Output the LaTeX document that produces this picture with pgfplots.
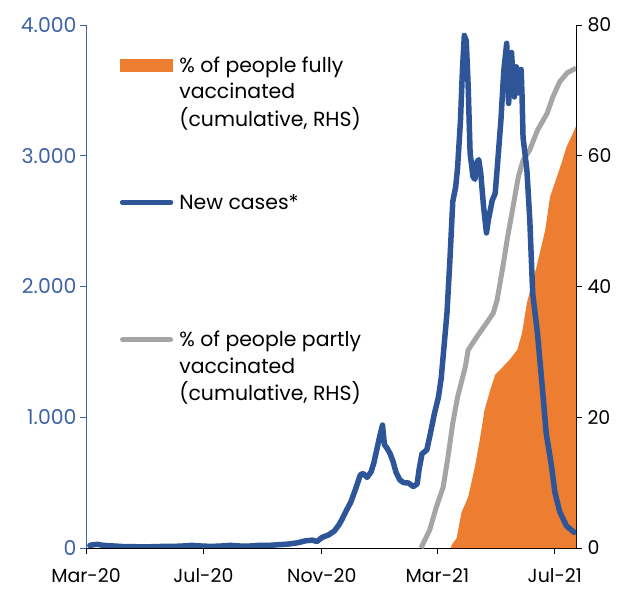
\documentclass[border=0pt]{standalone}
\usepackage{pgfplots}
\pgfplotsset{compat=1.18}
\usepackage{fontspec}
\setmainfont{Poppins}
\definecolor{cblue}{HTML}{2E5597}
\definecolor{corange}{HTML}{ED7D31}
\definecolor{cgrey}{HTML}{A5A5A5}
\definecolor{clab}{HTML}{3F62A6}

\pgfplotstableread{
d v
4 20
8 25
12 28
16 22
22 18
30 15
40 10
50 10
60 8
70 10
80 12
90 12
100 15
110 20
120 15
130 12
140 15
150 20
160 15
170 15
180 20
190 20
200 25
210 30
220 40
228 55
235 60
240 50
245 80
252 100
258 130
263 180
266 220
270 280
275 350
280 450
285 560
288 570
292 540
296 580
299 650
302 750
305 850
308 940
310 790
313 760
316 720
319 660
322 580
326 520
330 500
335 497
340 470
344 490
346 600
349 720
354 750
357 850
362 1030
366 1150
369 1300
372 1550
375 1800
378 2200
381 2650
384 2760
386 2910
389 3270
391 3650
393 3920
395 3880
397 3530
399 3020
402 2840
404 2820
406 2950
408 2970
410 2870
413 2610
416 2410
418 2510
422 2660
425 2710
427 2890
431 3270
434 3650
437 3860
439 3400
442 3790
445 3450
447 3680
449 3480
452 3660
453 3450
454 3140
458 2890
461 2510
464 1950
469 1640
474 1230
478 880
482 700
484 600
487 430
492 280
499 170
507 120
}\cases

\pgfplotstableread{
d v
348 0
357 2.75
364 6.3
371 9.3
376 13.9
381 19.1
386 23.1
394 27.7
397 30.3
406 32.3
416 34.4
423 35.9
427 37.9
433 43
438 47.6
443 51.7
449 56.7
454 59.3
461 60.9
469 63.9
479 66.5
485 69
492 71.3
500 72.7
509 73.4
}\partly

\pgfplotstableread{
d v
379 0
380 0.5
385 1.5
390 5.4
397 7.8
404 12.4
409 16.5
414 21.1
420 24.2
425 26.5
433 27.7
440 28.8
448 30.3
453 32.9
458 37.5
468 43
477 48.6
482 53.7
489 56.7
494 58.9
499 61.3
506 63.5
509 64.5
}\fully

\begin{document}
\begin{tikzpicture}
\path[use as bounding box] (-86bp,-42bp) rectangle (544bp,548bp);
\pgfplotsset{common/.style={
  scale only axis, width=490bp, height=523bp,
  at={(0bp,0bp)}, anchor=south west,
  xmin=0, xmax=509,
  tick align=outside, major tick length=6bp,
  ticklabel style={font=\fontsize{19}{22}\selectfont},
  /pgf/number format/assume math mode=true,
  scaled y ticks=false,
}}
\begin{axis}[common,
  ymin=0, ymax=80,
  axis y line*=right, axis x line*=bottom,
  axis line style={black, line width=0.9bp, -},
  tick style={black, line width=0.9bp},
  ytick={0,20,40,60,80},
  xtick={0,122,245,365,487},
  xticklabels={Mar-20,Jul-20,Nov-20,Mar-21,Jul-21},
  yticklabel style={xshift=2bp},
  xticklabel style={yshift=-11bp},
  legend style={at={(rel axis cs:0.069,0.946)}, anchor=north west,
    draw=none, fill=none, inner sep=0pt, outer sep=0pt,
    row sep=117bp, column sep=6bp,
    font=\fontsize{20.5}{27}\selectfont,
    nodes={inner sep=0pt, outer sep=0pt},
    cells={anchor=base west}},
]
\addplot[fill=corange, draw=none, forget plot] table[x=d, y=v] {\fully} \closedcycle;
\addplot[cgrey, line width=5bp, line join=round, forget plot] table[x=d, y=v] {\partly};
\addlegendimage{legend image code/.code={\fill[corange] (0bp,1bp) rectangle (52bp,13bp);}}
\addlegendentry{\begin{tabular}[t]{@{}l@{}}\% of people fully\\vaccinated\\(cumulative, RHS)\end{tabular}}
\addlegendimage{legend image code/.code={\draw[cblue, line width=5.5bp, line cap=round] (2bp,7bp) -- (50bp,7bp);}}
\addlegendentry{\begin{tabular}[t]{@{}l@{}}New cases*\end{tabular}}
\addlegendimage{legend image code/.code={\draw[cgrey, line width=5bp, line cap=round] (2bp,7bp) -- (50bp,7bp);}}
\addlegendentry{\begin{tabular}[t]{@{}l@{}}\% of people partly\\vaccinated\\(cumulative, RHS)\end{tabular}}
\end{axis}
\begin{axis}[common,
  ymin=0, ymax=4000,
  axis y line*=left, axis x line=none,
  axis line style={clab, line width=0.9bp, -},
  tick style={clab, line width=0.9bp},
  ytick={0,1000,2000,3000,4000},
  yticklabel style={clab, font=\fontsize{20.5}{22}\selectfont, /pgf/number format/1000 sep={.}},
]
\addplot[cblue, line width=5.5bp, line join=round, line cap=round] table[x=d, y=v] {\cases};
\end{axis}
\end{tikzpicture}
\end{document}
